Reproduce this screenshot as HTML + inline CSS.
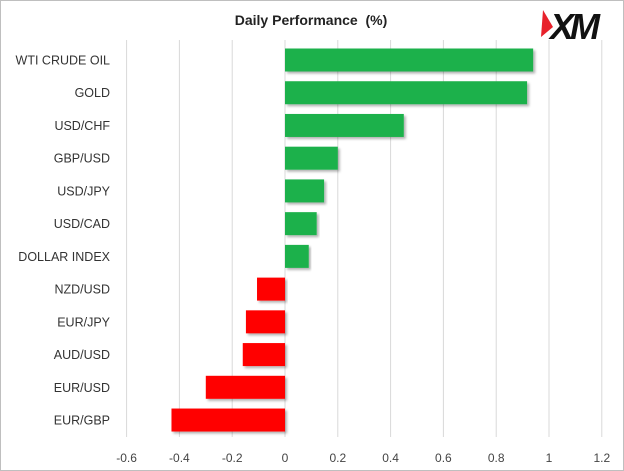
<!DOCTYPE html>
<html><head><meta charset="utf-8"><style>
html,body{margin:0;padding:0;background:#fff}
svg{display:block;font-family:"Liberation Sans",sans-serif}
</style></head><body>
<svg id="chart" width="624" height="471" viewBox="0 0 624 471">
<defs><filter id="sh" x="-5%" y="-20%" width="115%" height="150%"><feDropShadow dx="2" dy="2" stdDeviation="1.2" flood-color="#000" flood-opacity="0.3"/></filter></defs>
<rect x="0.5" y="0.5" width="623" height="470" fill="#fff" stroke="#bfbfbf"/>
<text x="311" y="25" text-anchor="middle" font-size="14" font-weight="bold" fill="#222">Daily Performance&#160; (%)</text>
<g>
<polygon points="543,10 553,27 541,37" fill="#e8212b"/>
<text x="550" y="39" font-size="36" font-weight="bold" font-style="italic" fill="#111" letter-spacing="-4">XM</text>
</g>
<g id="grid"></g><g id="bars"></g><g id="labels"></g><g id="ticks"></g>
</svg>
<script>
const categories=["WTI CRUDE OIL","GOLD","USD/CHF","GBP/USD","USD/JPY","USD/CAD","DOLLAR INDEX","NZD/USD","EUR/JPY","AUD/USD","EUR/USD","EUR/GBP"];
const values=[0.94,0.917,0.45,0.2,0.148,0.12,0.09,-0.106,-0.148,-0.16,-0.30,-0.43];
const tickValues=[-0.6,-0.4,-0.2,0,0.2,0.4,0.6,0.8,1,1.2];
const tickLabels=["-0.6","-0.4","-0.2","0","0.2","0.4","0.6","0.8","1","1.2"];
const NS="http://www.w3.org/2000/svg";
const x=v=>285+(v/0.2)*52.8;
const yc=i=>60+i*32.73;
const g=document.getElementById('grid'),b=document.getElementById('bars'),l=document.getElementById('labels'),t=document.getElementById('ticks');
tickValues.forEach((v,i)=>{
 const ln=document.createElementNS(NS,'line');
 ln.setAttribute('x1',x(v));ln.setAttribute('x2',x(v));ln.setAttribute('y1',40);ln.setAttribute('y2',437);
 ln.setAttribute('stroke','#d9d9d9');ln.setAttribute('stroke-width','1');
 
 
 g.appendChild(ln);
 const tx=document.createElementNS(NS,'text');
 tx.setAttribute('x',x(v));tx.setAttribute('y',462);tx.setAttribute('text-anchor','middle');
 tx.setAttribute('font-size','12');tx.setAttribute('fill','#444');tx.textContent=tickLabels[i];
 
 
 t.appendChild(tx);
});
categories.forEach((c,i)=>{
 const v=values[i];
 const r=document.createElementNS(NS,'rect');
 r.setAttribute('x',Math.min(x(0),x(v)));r.setAttribute('width',Math.abs(x(v)-x(0)));
 r.setAttribute('y',yc(i)-11.5);r.setAttribute('height',23);
 r.setAttribute('fill',v>=0?'#1db14b':'#ff0000');r.setAttribute('filter','url(#sh)');
 
 
 b.appendChild(r);
 const tx=document.createElementNS(NS,'text');
 tx.setAttribute('x',110);tx.setAttribute('y',yc(i)+4.5);tx.setAttribute('text-anchor','end');
 tx.setAttribute('font-size','12.5');tx.setAttribute('fill','#333');tx.textContent=c;
 
 
 l.appendChild(tx);
});
</script>
</body></html>
